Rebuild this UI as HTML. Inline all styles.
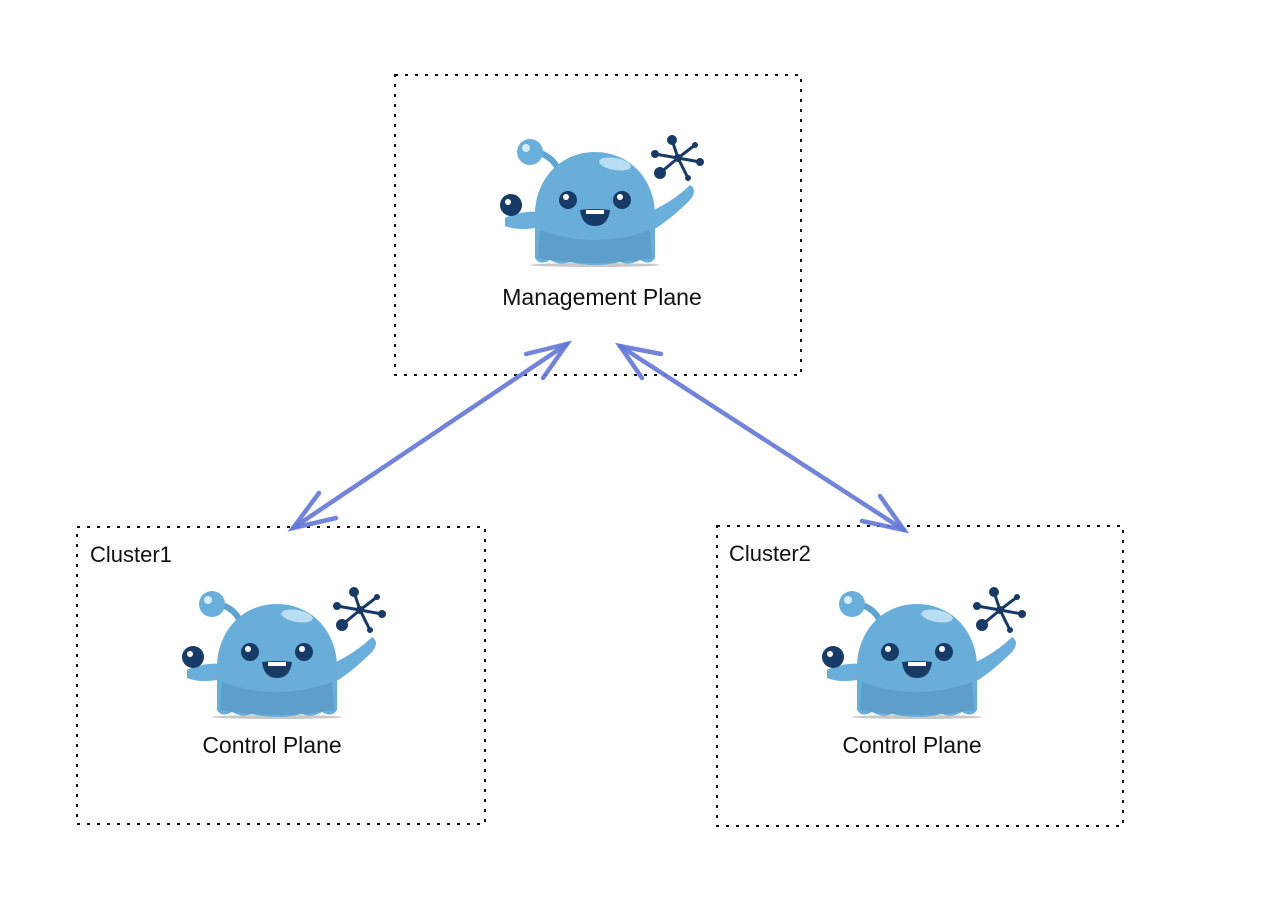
<!DOCTYPE html>
<html><head><style>body{margin:0;background:#fff}svg{display:block}</style></head><body>
<svg width="1276" height="914" viewBox="0 0 1276 914" xmlns="http://www.w3.org/2000/svg">
<defs>
<g id="m">
 <ellipse cx="95" cy="125" rx="65" ry="2" fill="#c8c8c8"/>
 <path d="M38 12 Q60 20 60 40" stroke="#5fa3d0" stroke-width="6" fill="none"/>
 <circle cx="30" cy="12" r="13" fill="#6aafdc"/>
 <circle cx="26" cy="8" r="4" fill="#d5ecf8"/>
 <path d="M5 78 Q20 70 45 72 L45 86 Q20 92 5 86 Z" fill="#6aafdc"/>
 <circle cx="11" cy="65" r="11" fill="#173a66"/>
 <circle cx="8" cy="62" r="3" fill="#fff"/>
 <path d="M150 72 Q175 60 190 45 Q198 50 190 60 Q170 80 150 92 Z" fill="#6aafdc"/>
 <path d="M95 12 C130 12 155 40 155 75 L155 118 Q150 126 140 120 Q130 126 120 122 Q95 128 70 122 Q60 126 50 120 Q40 126 35 118 L35 75 C35 40 60 12 95 12 Z" fill="#69add9"/>
 <path d="M40 90 Q95 110 150 90 L152 118 Q95 128 38 118 Z" fill="#5d9ecb"/>
 <ellipse cx="115" cy="24" rx="16" ry="6" fill="#b9def3" transform="rotate(10 115 24)"/>
 <circle cx="68" cy="60" r="9" fill="#173a66"/><circle cx="66" cy="57" r="3" fill="#fff"/>
 <circle cx="122" cy="60" r="9" fill="#173a66"/><circle cx="120" cy="57" r="3" fill="#fff"/>
 <path d="M80 70 Q95 68 110 70 Q108 86 95 86 Q82 86 80 70 Z" fill="#173a66"/>
 <rect x="86" y="70" width="18" height="4" fill="#fff"/>
 <g stroke="#173a66" stroke-width="3">
  <line x1="178" y1="18" x2="172" y2="0"/><line x1="178" y1="18" x2="200" y2="22"/>
  <line x1="178" y1="18" x2="160" y2="33"/><line x1="178" y1="18" x2="155" y2="14"/>
  <line x1="178" y1="18" x2="188" y2="38"/><line x1="178" y1="18" x2="195" y2="5"/>
 </g>
 <g fill="#173a66"><circle cx="172" cy="0" r="5"/><circle cx="200" cy="22" r="4"/><circle cx="160" cy="33" r="6"/><circle cx="155" cy="14" r="4"/><circle cx="188" cy="38" r="3"/><circle cx="195" cy="5" r="3"/><circle cx="178" cy="18" r="4"/></g>
</g>
</defs>
<g fill="none" stroke="#111" stroke-width="2" stroke-dasharray="3 7">
 <rect x="395" y="75" width="406" height="300"/>
 <rect x="77" y="527" width="408" height="297"/>
 <rect x="717" y="526" width="406" height="300"/>
</g>
<use href="#m" x="500" y="140"/>
<use href="#m" x="182" y="592"/>
<use href="#m" x="822" y="592"/>
<g font-family="Liberation Sans, sans-serif" fill="#111">
 <text x="602" y="305" font-size="23" text-anchor="middle">Management Plane</text>
 <text x="272" y="753" font-size="23" text-anchor="middle">Control Plane</text>
 <text x="912" y="753" font-size="23" text-anchor="middle">Control Plane</text>
 <text x="90" y="562" font-size="22">Cluster1</text>
 <text x="729" y="561" font-size="22">Cluster2</text>
</g>
<g stroke="#6377d6" stroke-opacity="0.9" stroke-width="4.5" stroke-linecap="round" fill="none">
 <line x1="293" y1="528" x2="567" y2="344"/>
 <polyline points="526,354 567,344 543,378"/>
 <polyline points="319,493 293,528 336,518"/>
 <line x1="620" y1="346" x2="904" y2="530"/>
 <polyline points="661,354 620,346 642,378"/>
 <polyline points="880,496 904,530 862,521"/>
</g>
</svg>
</body></html>
